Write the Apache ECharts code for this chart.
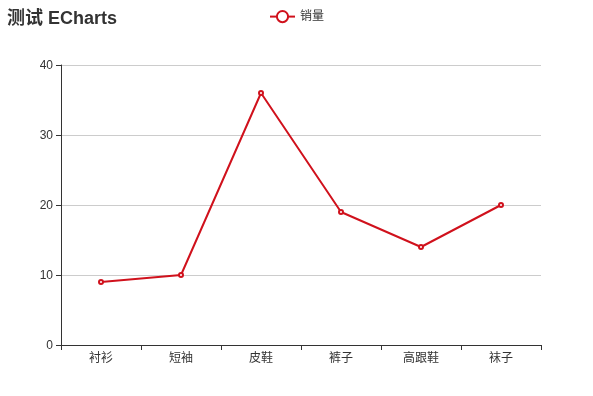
<!DOCTYPE html>
<html><head><meta charset="utf-8">
<script src="https://cdn.jsdelivr.net/npm/echarts@6/dist/echarts.min.js"></script>
<style>html,body{margin:0;padding:0;background:#fff}#main{width:593px;height:396px}</style>
</head><body><div id="main"></div>
<script>
const categories = ['衬衫', '短袖', '皮鞋', '裤子', '高跟鞋', '袜子'];
const sales = [9, 10, 36, 19, 14, 20];
const yTicks = { min: 0, max: 40, interval: 10 };
const FONT = '"Liberation Sans", "Noto Sans CJK SC", sans-serif';
const chart = echarts.init(document.getElementById('main'), null, { renderer: 'canvas' });
chart.setOption({
  animation: false,
  textStyle: { fontFamily: FONT },
  title: { text: '测试 ECharts', left: 2, top: 5, textStyle: { fontSize: 18, fontWeight: 'bold', color: '#333', fontFamily: FONT } },
  legend: { data: ['销量'], top: 5, left: 'center', itemWidth: 25, itemHeight: 14, textStyle: { color: '#333', fontSize: 12, fontFamily: FONT } },
  grid: { left: 61, right: 52, top: 65, bottom: 51, containLabel: false },
  xAxis: {
    type: 'category', data: categories, boundaryGap: true,
    axisLine: { show: true, lineStyle: { color: '#333' } },
    axisTick: { show: true, alignWithLabel: false, lineStyle: { color: '#333' } },
    axisLabel: { color: '#333', fontSize: 12, margin: 8, fontFamily: FONT },
    splitLine: { show: false }
  },
  yAxis: {
    type: 'value', min: yTicks.min, max: yTicks.max, interval: yTicks.interval,
    axisLine: { show: true, lineStyle: { color: '#333' } },
    axisTick: { show: true, lineStyle: { color: '#333' } },
    axisLabel: { color: '#333', fontSize: 12, margin: 8, fontFamily: FONT, verticalAlign: 'top', lineHeight: 12, padding: [-5, 0, 0, 0] },
    splitLine: { show: true, lineStyle: { color: '#ccc' } }
  },
  series: [{
    name: '销量', type: 'line', data: sales,
    symbol: 'emptyCircle', symbolSize: 4,
    itemStyle: { color: '#d0111c', borderColor: '#e05560', borderWidth: 1 },
    lineStyle: { width: 2, color: '#d0111c' }
  }]
});
</script></body></html>
